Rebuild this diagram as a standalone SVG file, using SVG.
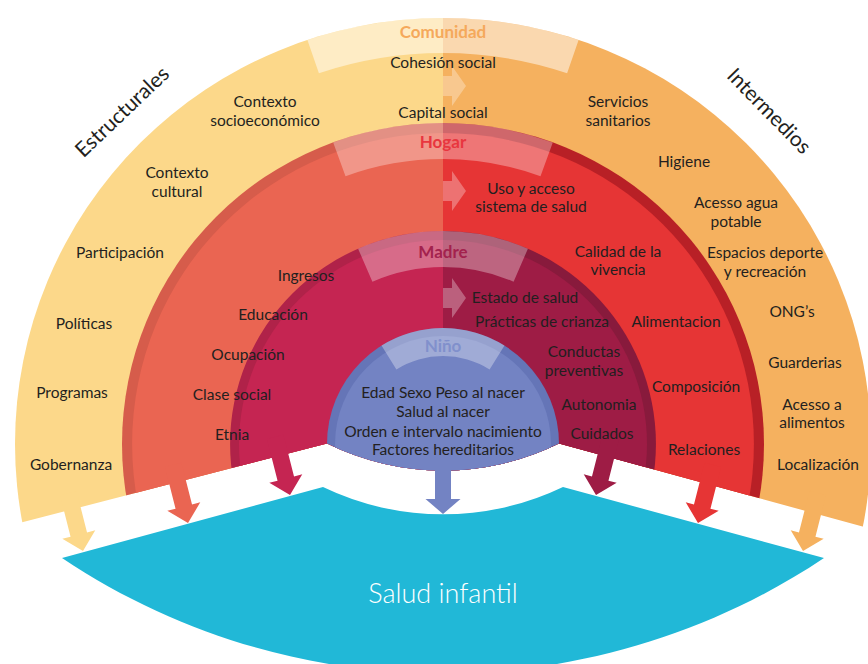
<svg xmlns="http://www.w3.org/2000/svg" width="868" height="664" viewBox="0 0 868 664">
<style>
.t{font-family:Lato,"Liberation Sans",sans-serif;font-size:15.5px;fill:#231f20;text-anchor:middle}
.h{font-family:Lato,"Liberation Sans",sans-serif;font-size:17px;font-weight:bold;text-anchor:middle}
.big{font-family:Lato,"Liberation Sans",sans-serif;font-size:21px;fill:#231f20;text-anchor:middle}
.band{fill:#fff;fill-opacity:0.32}
.warr{fill:#fff;fill-opacity:0.3}
</style>
<defs>
<clipPath id="cut"><path d="M0,0 L868,0 L868,528 L559,443.5 A263,263 0 0 1 327,443.5 L0,528 Z"/></clipPath>
<path id="arr" d="M0,0 L-17,-17 L-8.5,-17 L-8.5,-60 L8.5,-60 L8.5,-17 L17,-17 Z"/>
<path id="rarr" d="M0,-10 L9,-10 L9,-20 L23,0 L9,20 L9,10 L0,10 Z"/>
</defs>
<rect width="868" height="664" fill="#fff"/>

<g id="rings" clip-path="url(#cut)">
  <g id="comunidad-ring">
    <path d="M443,18 A428,426 0 0 0 443,870 Z" fill="#fcd88a"/>
    <path d="M443,18 A428,426 0 0 1 443,870 Z" fill="#f5b15f"/>
    <path class="band" style="fill-opacity:0.5" d="M307.4,40 A428,426 0 0 1 578.6,40 L567.1,73.2 A391,391 0 0 0 318.9,73.2 Z"/>
  </g>
  <g id="hogar-ring">
    <path d="M443,123 A321,321 0 0 0 443,765 Z" fill="#d65c4b"/>
    <path d="M443,123 A321,321 0 0 1 443,765 Z" fill="#b82026"/>
    <path d="M443,133 A311,311 0 0 0 443,755 Z" fill="#ea6552"/>
    <path d="M443,133 A311,311 0 0 1 443,755 Z" fill="#e63535"/>
    <path class="band" d="M333.2,142.4 A321,321 0 0 1 552.8,142.4 L540.5,176.2 A285,285 0 0 0 345.5,176.2 Z"/>
  </g>
  <g id="madre-ring">
    <path d="M443,231 A213,213 0 0 0 443,657 Z" fill="#b02249"/>
    <path d="M443,231 A213,213 0 0 1 443,657 Z" fill="#881a3c"/>
    <path d="M443,240 A204,204 0 0 0 443,648 Z" fill="#c52552"/>
    <path d="M443,240 A204,204 0 0 1 443,648 Z" fill="#9e1c45"/>
    <path class="band" d="M358.1,248.7 A213,213 0 0 1 527.9,248.7 L513.6,281.7 A177,177 0 0 0 372.4,281.7 Z"/>
  </g>
  <g id="nino-ring">
    <circle cx="443" cy="444" r="116" fill="#6575b7"/>
    <circle cx="443" cy="444" r="108" fill="#7383c3"/>
    <path class="band" d="M381.5,345.6 A116,116 0 0 1 504.5,345.6 L489.6,369.4 A88,88 0 0 0 396.4,369.4 Z"/>
  </g>
  <use href="#rarr" class="warr" x="443" y="86"/>
  <use href="#rarr" class="warr" x="443" y="191"/>
  <use href="#rarr" class="warr" x="443" y="298"/>
</g>

<g id="salud-infantil">
  <path d="M62,558 L323,487 A277,277 0 0 0 563,487 L824,558 C594,712 292,712 62,558 Z" fill="#21b8d7"/>
  <text x="443" y="603" font-family="Lato,'Liberation Sans',sans-serif" font-size="27" font-weight="300" fill="#fff" text-anchor="middle">Salud infantil</text>
</g>

<g id="connectors">
  <use href="#arr" fill="#fcd88a" transform="translate(83,551) rotate(-14.3)"/>
  <use href="#arr" fill="#ea6552" transform="translate(188,523) rotate(-14.3)"/>
  <use href="#arr" fill="#c52552" transform="translate(290,495) rotate(-14.3)"/>
  <path d="M443,514 L425.5,499 L435,499 L435,450 L451,450 L451,499 L460.5,499 Z" fill="#7383c3"/>
  <use href="#arr" fill="#9e1c45" transform="translate(596,495) rotate(14.3)"/>
  <use href="#arr" fill="#e63535" transform="translate(698,523) rotate(14.3)"/>
  <use href="#arr" fill="#f5b15f" transform="translate(803,551) rotate(14.3)"/>
</g>

<g id="labels-outer">
  <text class="big" transform="translate(127,117) rotate(-43.6)">Estructurales</text>
  <text class="big" transform="translate(764,116) rotate(45.7)">Intermedios</text>
</g>

<g id="comunidad">
  <text class="h" x="443" y="38" fill="#f5a95b">Comunidad</text>
  <text class="t" x="443" y="68">Cohesión social</text>
  <text class="t" x="443" y="118">Capital social</text>
  <text class="t" x="265" y="107">Contexto</text>
  <text class="t" x="265" y="126">socioeconómico</text>
  <text class="t" x="177" y="178">Contexto</text>
  <text class="t" x="177" y="197">cultural</text>
  <text class="t" x="120" y="258">Participación</text>
  <text class="t" x="84" y="329">Políticas</text>
  <text class="t" x="72" y="398">Programas</text>
  <text class="t" x="71" y="470">Gobernanza</text>
  <text class="t" x="618" y="107">Servicios</text>
  <text class="t" x="618" y="126">sanitarios</text>
  <text class="t" x="684" y="167">Higiene</text>
  <text class="t" x="736" y="208">Acesso agua</text>
  <text class="t" x="736" y="227">potable</text>
  <text class="t" x="765" y="258">Espacios deporte</text>
  <text class="t" x="765" y="277">y recreación</text>
  <text class="t" x="792" y="317">ONG’s</text>
  <text class="t" x="805" y="368">Guarderias</text>
  <text class="t" x="812" y="410">Acesso a</text>
  <text class="t" x="812" y="428">alimentos</text>
  <text class="t" x="818" y="470">Localización</text>
</g>

<g id="hogar">
  <text class="h" x="443" y="148" fill="#e8363f">Hogar</text>
  <text class="t" x="306" y="281">Ingresos</text>
  <text class="t" x="273" y="320">Educación</text>
  <text class="t" x="248" y="360">Ocupación</text>
  <text class="t" x="232" y="400">Clase social</text>
  <text class="t" x="232" y="440">Etnia</text>
  <text class="t" x="531" y="194">Uso y acceso</text>
  <text class="t" x="531" y="212">sistema de salud</text>
  <text class="t" x="618" y="257">Calidad de la</text>
  <text class="t" x="618" y="275">vivencia</text>
  <text class="t" x="676" y="327">Alimentacion</text>
  <text class="t" x="696" y="392">Composición</text>
  <text class="t" x="704" y="455">Relaciones</text>
</g>

<g id="madre">
  <text class="h" x="443" y="258" fill="#a3224e">Madre</text>
  <text class="t" x="525" y="303">Estado de salud</text>
  <text class="t" x="542" y="327">Prácticas de crianza</text>
  <text class="t" x="584" y="357">Conductas</text>
  <text class="t" x="584" y="376">preventivas</text>
  <text class="t" x="599" y="410">Autonomia</text>
  <text class="t" x="602" y="439">Cuidados</text>
</g>

<g id="nino">
  <text class="h" x="443" y="352" fill="#8190cc">Niño</text>
  <text class="t" x="443" y="398">Edad Sexo Peso al nacer</text>
  <text class="t" x="443" y="417">Salud al nacer</text>
  <text class="t" x="443" y="437">Orden e intervalo nacimiento</text>
  <text class="t" x="443" y="455">Factores hereditarios</text>
</g>
</svg>
